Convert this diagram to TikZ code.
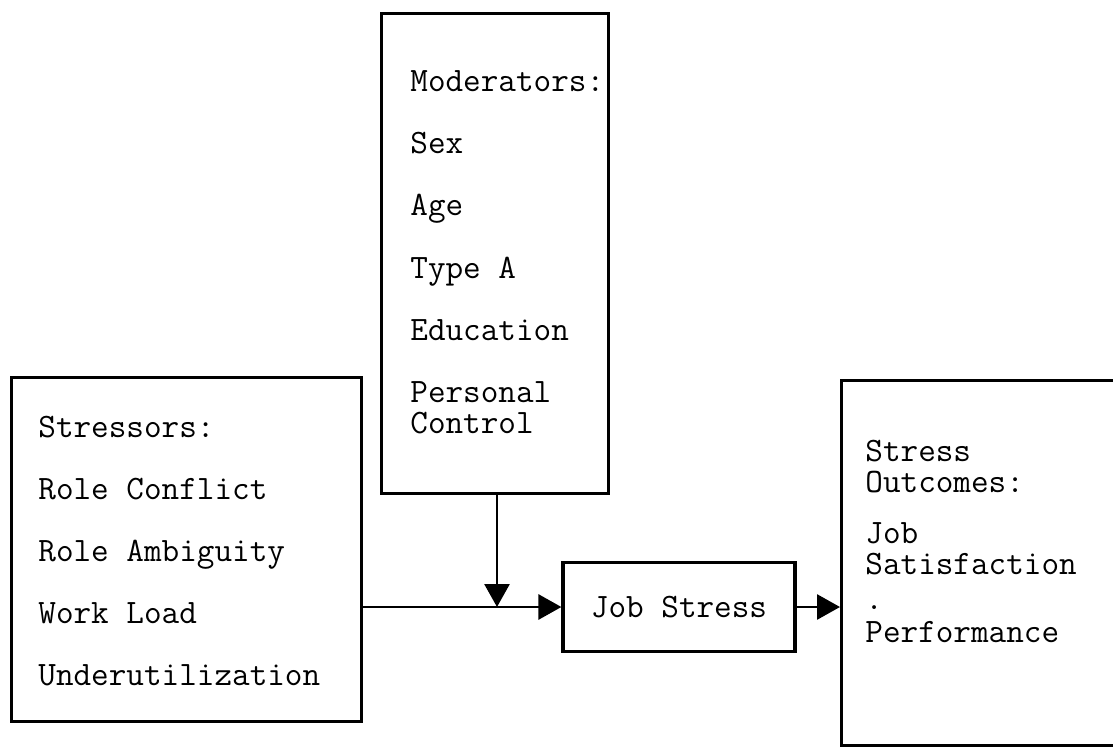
\documentclass[tikz,border=0pt]{standalone}
\usepackage{fontspec}
\usetikzlibrary{arrows.meta}
\newcommand{\boxfont}{\ttfamily\fontsize{17.1}{15.5}\selectfont\addfontfeature{FakeBold=1.6}}
\begin{document}
\begin{tikzpicture}[x=0.5pt,y=-0.5pt,
  box/.style={draw, line width=1.6pt, inner sep=0pt, anchor=north west},
  txt/.style={font=\boxfont, align=left, anchor=base west, inner sep=0pt},
  flow/.style={line width=1.4pt, -{Triangle[length=11.5pt,width=12.5pt]}}]
\clip (0,0) rectangle (1113,753);

% boxes
\node[box, minimum width=175pt,   minimum height=172pt]  (stressors) at (10,376) {};
\node[box, minimum width=113.5pt, minimum height=240pt]  (mods)      at (380,12) {};
\node[box, minimum width=116pt,   minimum height=44.5pt, anchor=center,
      font=\boxfont] (jobstress) at (679,607) {Job Stress};
\node[box, minimum width=160pt,   minimum height=182.5pt] (outcomes) at (840,379) {};

% box contents (each node is placed by the baseline of its last line)
\node[txt] (stxt) at (38,685) {Stressors:\\ \\Role Conflict\\ \\Role Ambiguity\\ \\Work Load\\ \\Underutilization};
\node[txt] (mtxt) at (410,433) {Moderators:\\ \\Sex\\ \\Age\\ \\Type A\\ \\Education\\ \\Personal\\Control};
\node[txt] (otxt) at (865,642) {Stress\\Outcomes:\\[10pt]Job\\Satisfaction\\[2pt].\\[1pt]Performance};

% connectors
\coordinate (join) at (497,607);
\draw[line width=1.4pt] (stressors.east |- jobstress.west) -- (join);
\draw[flow] (join) -- (jobstress.west);
\draw[flow] (mods.south -| join) -- (join);
\draw[flow] (jobstress.east) -- (outcomes.west |- jobstress.east);
\end{tikzpicture}
\end{document}
